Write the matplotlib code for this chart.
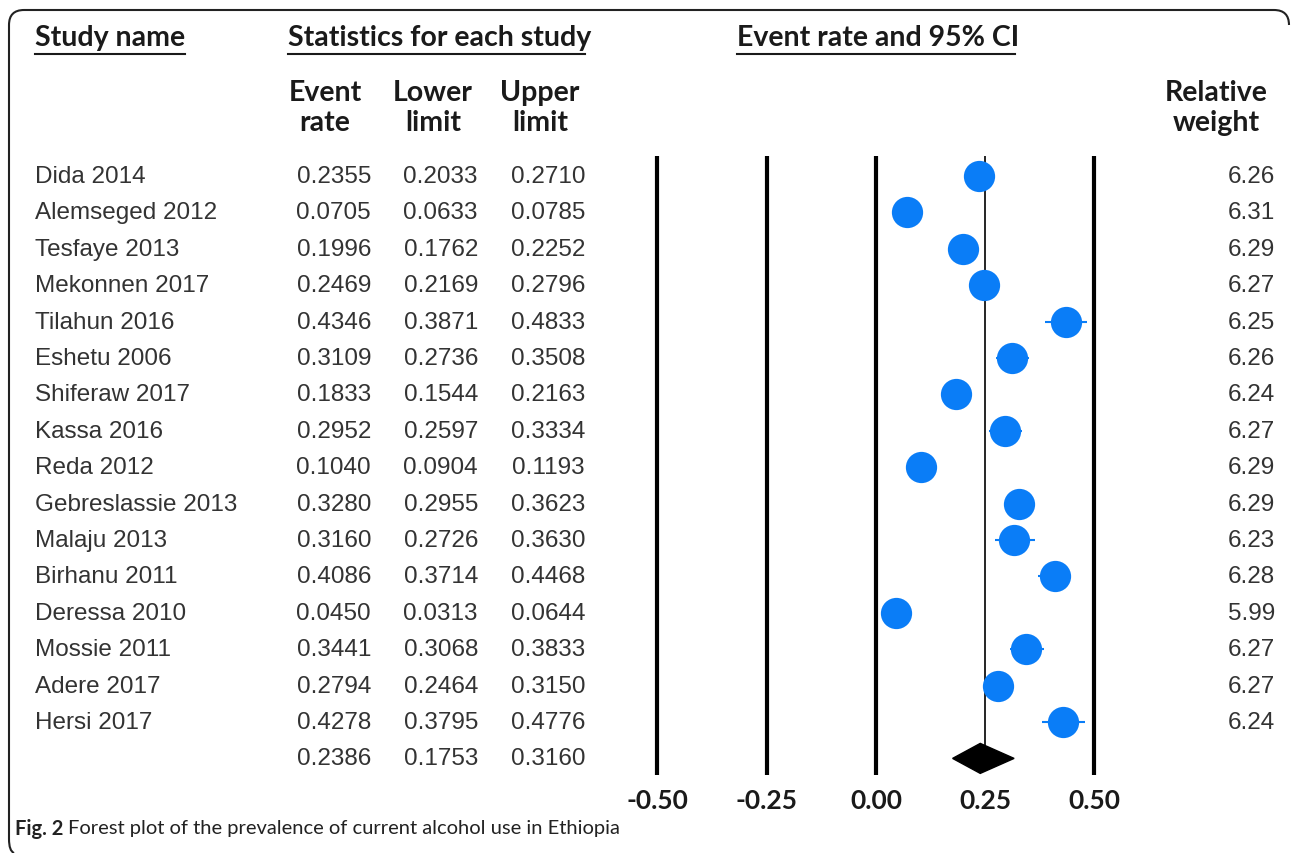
import numpy as np
import matplotlib
matplotlib.use("Agg")
import matplotlib.pyplot as plt
from matplotlib import font_manager
from matplotlib.patches import PathPatch
from matplotlib.path import Path

studies = ["Dida 2014", "Alemseged 2012", "Tesfaye 2013", "Mekonnen 2017", "Tilahun 2016",
           "Eshetu 2006", "Shiferaw 2017", "Kassa 2016", "Reda 2012", "Gebreslassie 2013",
           "Malaju 2013", "Birhanu 2011", "Deressa 2010", "Mossie 2011", "Adere 2017", "Hersi 2017"]
event_rate = [0.2355, 0.0705, 0.1996, 0.2469, 0.4346, 0.3109, 0.1833, 0.2952, 0.1040, 0.3280,
              0.3160, 0.4086, 0.0450, 0.3441, 0.2794, 0.4278]
lower_limit = [0.2033, 0.0633, 0.1762, 0.2169, 0.3871, 0.2736, 0.1544, 0.2597, 0.0904, 0.2955,
               0.2726, 0.3714, 0.0313, 0.3068, 0.2464, 0.3795]
upper_limit = [0.2710, 0.0785, 0.2252, 0.2796, 0.4833, 0.3508, 0.2163, 0.3334, 0.1193, 0.3623,
               0.3630, 0.4468, 0.0644, 0.3833, 0.3150, 0.4776]
rel_weight = [6.26, 6.31, 6.29, 6.27, 6.25, 6.26, 6.24, 6.27, 6.29, 6.29, 6.23, 6.28, 5.99,
              6.27, 6.27, 6.24]
pooled = (0.2386, 0.1753, 0.3160)
xticks = [-0.50, -0.25, 0.00, 0.25, 0.50]

avail = {f.name for f in font_manager.fontManager.ttflist}
def pick(cands):
    for c in cands:
        if c in avail:
            return c
    return "DejaVu Sans"
ROW_FONT = pick(["Liberation Sans", "Arial", "DejaVu Sans"])
NARROW = pick(["Liberation Sans Narrow", "Arial Narrow", "Lato", "Roboto"])
CAP_FONT = pick(["Lato", "Open Sans", "Noto Sans", "DejaVu Sans"])

BLUE = "#0a7df7"
TXT = "#333333"
HDR = "#1a1a1a"

fig = plt.figure(figsize=(12.92, 8.54), dpi=100)
fig.patch.set_facecolor("white")
ax = fig.add_axes([0, 0, 1, 1])
ax.axis("off")

X0, SX, Y0, SY = 876.0, 437.0, 177.0, 36.4
ax.set_xlim(-X0 / SX, (1292 - X0) / SX)
ax.set_ylim((854 - Y0) / SY, -Y0 / SY)
px = lambda p: (p - X0) / SX
py = lambda p: (p - Y0) / SY

n = len(studies)
ys = np.arange(n)
ysum = n

# reference lines
ax.vlines([t for t in xticks if abs(t - 0.25) > 1e-9], py(157), py(776), color="black", lw=3, zorder=1)
ax.vlines(0.25, py(157), py(748), color="black", lw=1.2, zorder=1)

# study CIs and points
ax.hlines(ys, lower_limit, upper_limit, color=BLUE, lw=1.5, zorder=2)
ax.plot(event_rate, ys, "o", ms=22.5, color=BLUE, mec=BLUE, mew=0, zorder=3)

# pooled diamond
h = 15 / SY
est, lo, hi = pooled
ax.fill([lo, est, hi, est], [ysum, ysum - h, ysum, ysum + h], color="black", zorder=4)

# tick labels
for t in xticks:
    ax.text(t, py(801), f"{t:.2f}", ha="center", va="center", fontsize=19,
            fontweight="bold", color=HDR, family=NARROW)

# table rows
rk = dict(va="center", fontsize=17.5, color=TXT, family=ROW_FONT)
for i in range(n):
    ax.text(px(35), i, studies[i], ha="left", **rk)
    ax.text(px(371), i, f"{event_rate[i]:.4f}", ha="right", **rk)
    ax.text(px(478), i, f"{lower_limit[i]:.4f}", ha="right", **rk)
    ax.text(px(585), i, f"{upper_limit[i]:.4f}", ha="right", **rk)
    ax.text(px(1275), i, f"{rel_weight[i]:.2f}", ha="right", **rk)
ax.text(px(371), ysum, f"{pooled[0]:.4f}", ha="right", **rk)
ax.text(px(478), ysum, f"{pooled[1]:.4f}", ha="right", **rk)
ax.text(px(585), ysum, f"{pooled[2]:.4f}", ha="right", **rk)

# headers
hdr_kw = dict(fontsize=20.5, fontweight="bold", color=HDR, va="center", family=NARROW)
ax.text(px(35), py(38), "Study name", ha="left", **hdr_kw)
ax.text(px(288), py(38), "Statistics for each study", ha="left", **hdr_kw)
ax.text(px(737), py(38), "Event rate and 95% CI", ha="left", **hdr_kw)
ax.plot([px(35), px(185)], [py(55), py(55)], color=HDR, lw=1.5)
ax.plot([px(288), px(585)], [py(55), py(55)], color=HDR, lw=1.5)
ax.plot([px(737), px(1015)], [py(55), py(55)], color=HDR, lw=1.5)

ml = dict(multialignment="center", linespacing=1.15)
ax.text(px(325), py(108), "Event\nrate", ha="center", **ml, **hdr_kw)
ax.text(px(433), py(108), "Lower\nlimit", ha="center", **ml, **hdr_kw)
ax.text(px(540), py(108), "Upper\nlimit", ha="center", **ml, **hdr_kw)
ax.text(px(1268), py(108), "Relative\nweight", ha="right", **ml, **hdr_kw)

# caption
ax.text(px(15), py(829), "Fig. 2", ha="left", va="center", fontsize=14.5, fontweight="bold",
        color="#222222", family=CAP_FONT)
ax.text(px(68), py(829), "Forest plot of the prevalence of current alcohol use in Ethiopia", ha="left",
        va="center", fontsize=14.5, color="#222222", family=CAP_FONT)

# frame (left + top with rounded corners, as in the page crop)
H = 854
def f(x, y):
    return (x / 1292, (H - y) / H)
verts = [f(1289, 26), f(1289, 11), f(1274, 11),
         f(24, 11), f(9, 11), f(9, 26),
         f(9, 840), f(9, 852), f(14, 854)]
codes = [Path.MOVETO, Path.CURVE3, Path.CURVE3,
         Path.LINETO, Path.CURVE3, Path.CURVE3,
         Path.LINETO, Path.CURVE3, Path.CURVE3]
fig.patches.append(PathPatch(Path(verts, codes), transform=fig.transFigure, fill=False,
                             ec="#222222", lw=1.5))

fig.savefig("out.png", dpi=100, facecolor="white")
